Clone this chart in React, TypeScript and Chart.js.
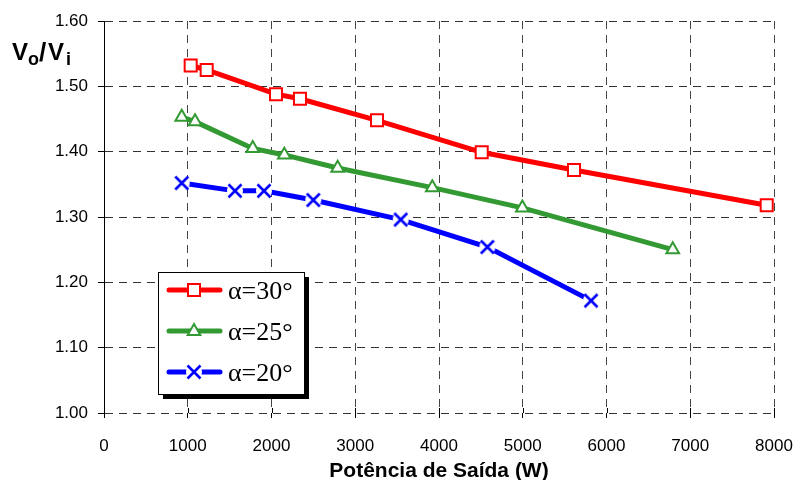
import React, { useEffect, useRef } from "react";
import { Chart, registerables } from "chart.js";

Chart.register(...registerables);

// α=30°
const red30X = [1035, 1226, 2054, 2340, 3260, 4510, 5612, 7913];
const red30Y = [1.532, 1.525, 1.488, 1.481, 1.448, 1.399, 1.372, 1.318];
// α=25°
const green25X = [928, 1087, 1776, 2153, 2790, 3920, 4995, 6791];
const green25Y = [1.453, 1.446, 1.405, 1.395, 1.375, 1.345, 1.314, 1.25];
// α=20°
const blue20X = [928, 1564, 1910, 2499, 3543, 4577, 5815];
const blue20Y = [1.352, 1.34, 1.34, 1.326, 1.296, 1.254, 1.172];

const seriesLabels = ["α=30°", "α=25°", "α=20°"];
const xTitle = "Potência de Saída (W)";
const yMin = 1.0;
const yMax = 1.6;
const yStep = 0.1;
const xMin = 0;
const xMax = 8000;
const xStep = 1000;

const RED = "#ff0000";
const GREEN = "#339933";
const BLUE = "#0000ff";
const TICK_FONT = "'Liberation Sans', Arial, sans-serif";
const BOLD_FONT = "'Liberation Sans', Arial, sans-serif";

function makeCross(): HTMLCanvasElement {
  const c = document.createElement("canvas");
  c.width = 18;
  c.height = 18;
  const g = c.getContext("2d")!;
  g.fillStyle = "#ffffff";
  g.beginPath();
  g.arc(9, 9, 8, 0, Math.PI * 2);
  g.fill();
  g.strokeStyle = BLUE;
  g.lineWidth = 2.6;
  g.beginPath();
  g.moveTo(2.5, 2.5);
  g.lineTo(15.5, 15.5);
  g.moveTo(15.5, 2.5);
  g.lineTo(2.5, 15.5);
  g.stroke();
  return c;
}

function pts(xs: number[], ys: number[]) {
  return xs.map((x, i) => ({ x, y: ys[i] }));
}

export default function App() {
  const ref = useRef<HTMLCanvasElement | null>(null);

  useEffect(() => {
    const canvas = ref.current;
    if (!canvas) return;
    const cross = makeCross();

    const drawSquare = (ctx: CanvasRenderingContext2D, x: number, y: number) => {
      ctx.save();
      ctx.fillStyle = "#fff";
      ctx.strokeStyle = RED;
      ctx.lineWidth = 2;
      ctx.fillRect(x - 6, y - 6, 12, 12);
      ctx.strokeRect(x - 6, y - 6, 12, 12);
      ctx.restore();
    };
    const drawTri = (ctx: CanvasRenderingContext2D, x: number, y: number) => {
      ctx.save();
      ctx.fillStyle = "#fff";
      ctx.strokeStyle = GREEN;
      ctx.lineWidth = 2;
      ctx.beginPath();
      ctx.moveTo(x, y - 7);
      ctx.lineTo(x + 6.3, y + 4);
      ctx.lineTo(x - 6.3, y + 4);
      ctx.closePath();
      ctx.fill();
      ctx.stroke();
      ctx.restore();
    };

    const extras = {
      id: "extras",
      afterDatasetsDraw(chart: any) {
        const ctx: CanvasRenderingContext2D = chart.ctx;
        const xs = chart.scales.x;
        const ys = chart.scales.y;
        // inner part of x tick marks
        ctx.save();
        ctx.strokeStyle = "#000";
        ctx.lineWidth = 1;
        for (let v = xMin; v <= xMax; v += xStep) {
          const px = Math.round(xs.getPixelForValue(v)) + 0.5;
          const py = ys.getPixelForValue(yMin);
          ctx.beginPath();
          ctx.moveTo(px, py - 5);
          ctx.lineTo(px, py);
          ctx.stroke();
        }
        ctx.restore();

        // legend
        const bx = 158, by = 272, bw = 146, bh = 122;
        ctx.save();
        ctx.fillStyle = "#000";
        ctx.fillRect(bx + 5, by + 5, bw, bh);
        ctx.fillStyle = "#fff";
        ctx.fillRect(bx, by, bw, bh);
        ctx.strokeStyle = "#000";
        ctx.lineWidth = 1;
        ctx.strokeRect(bx + 0.5, by + 0.5, bw, bh);
        const colors = [RED, GREEN, BLUE];
        const rows = [290, 331, 372];
        for (let i = 0; i < 3; i++) {
          const y = rows[i];
          ctx.strokeStyle = colors[i];
          ctx.lineWidth = 5;
          ctx.lineCap = "round";
          ctx.beginPath();
          ctx.moveTo(169, y);
          ctx.lineTo(220, y);
          ctx.stroke();
          if (i === 0) drawSquare(ctx, 194, y);
          else if (i === 1) drawTri(ctx, 194, y);
          else ctx.drawImage(cross, 194 - 9, y - 9);
          ctx.fillStyle = "#000";
          ctx.font = "26px 'Liberation Serif', 'Times New Roman', serif";
          ctx.textBaseline = "alphabetic";
          ctx.textAlign = "left";
          ctx.fillText(seriesLabels[i], 228, y + 9);
        }
        ctx.restore();

        // y-axis title Vo/Vi
        ctx.save();
        ctx.fillStyle = "#000";
        ctx.textAlign = "left";
        ctx.textBaseline = "alphabetic";
        const big = "bold 24px " + BOLD_FONT;
        const slash = "bold 26px " + BOLD_FONT;
        const small = "bold 18px " + BOLD_FONT;
        const parts: [string, string, number, number][] = [
          ["V", big, 12, 60],
          ["o", small, 28, 65],
          ["/", slash, 39, 61],
          ["V", big, 48, 60],
          ["i", small, 66, 65],
        ];
        for (const [t, f, px, py] of parts) {
          ctx.font = f;
          ctx.fillText(t, px, py);
        }
        ctx.restore();
      },
    };

    const chart = new Chart(canvas, {
      type: "line",
      data: {
        datasets: [
          {
            label: seriesLabels[0],
            data: pts(red30X, red30Y),
            borderColor: RED,
            backgroundColor: "#ffffff",
            borderWidth: 5,
            pointStyle: "rect",
            pointRadius: 8.5,
            pointBorderWidth: 2,
            pointBorderColor: RED,
            pointBackgroundColor: "#ffffff",
            tension: 0,
          },
          {
            label: seriesLabels[1],
            data: pts(green25X, green25Y),
            borderColor: GREEN,
            backgroundColor: "#ffffff",
            borderWidth: 5,
            pointStyle: "triangle",
            pointRadius: 7.3,
            pointBorderWidth: 2,
            pointBorderColor: GREEN,
            pointBackgroundColor: "#ffffff",
            tension: 0,
          },
          {
            label: seriesLabels[2],
            data: pts(blue20X, blue20Y),
            borderColor: BLUE,
            backgroundColor: BLUE,
            borderWidth: 5,
            pointStyle: cross as any,
            pointRadius: 9,
            tension: 0,
          },
        ],
      },
      options: {
        animation: false,
        responsive: false,
        devicePixelRatio: 1,
        clip: false as any,
        layout: { padding: { top: 21, right: 20, left: 0, bottom: 0 } },
        plugins: {
          legend: { display: false },
          tooltip: { enabled: false },
          title: { display: false },
        },
        scales: {
          x: {
            type: "linear",
            min: xMin,
            max: xMax,
            ticks: {
              stepSize: xStep,
              color: "#000",
              font: { family: TICK_FONT, size: 17 },
              padding: 18,
              maxRotation: 0,
              callback: (v: any) => String(v),
            },
            grid: {
              color: "#444",
              lineWidth: 1,
              tickLength: 5,
              tickColor: "#000",
              tickBorderDash: [],
              drawTicks: true,
            },
            border: { display: false, dash: [8, 6] },
            title: {
              display: true,
              text: xTitle,
              color: "#000",
              font: { family: BOLD_FONT, size: 21, weight: "bold", lineHeight: 0.8 },
              padding: { top: 0, bottom: 0 },
            },
            afterFit: (s: any) => {
              s.height = 67;
              s.paddingLeft = 0;
              s.paddingRight = 0;
            },
          } as any,
          y: {
            type: "linear",
            min: yMin,
            max: yMax,
            ticks: {
              stepSize: yStep,
              color: "#000",
              font: { family: TICK_FONT, size: 17 },
              padding: 10,
              callback: (v: any) => Number(v).toFixed(2),
            },
            grid: {
              color: "#333",
              lineWidth: 1,
              tickLength: 6,
              tickColor: "#000",
              tickBorderDash: [],
              drawTicks: true,
            },
            border: { display: true, color: "#000", width: 1, dash: [8, 6] },
            afterFit: (s: any) => {
              s.width = 104;
              s.paddingTop = 0;
              s.paddingBottom = 0;
            },
          } as any,
        },
      },
      plugins: [extras],
    } as any);

    return () => chart.destroy();
  }, []);

  return (
    <div style={{ position: "fixed", left: 0, top: 0, width: 794, height: 480, background: "#fff" }}>
      <canvas ref={ref} width={794} height={480} style={{ display: "block" }} />
    </div>
  );
}
